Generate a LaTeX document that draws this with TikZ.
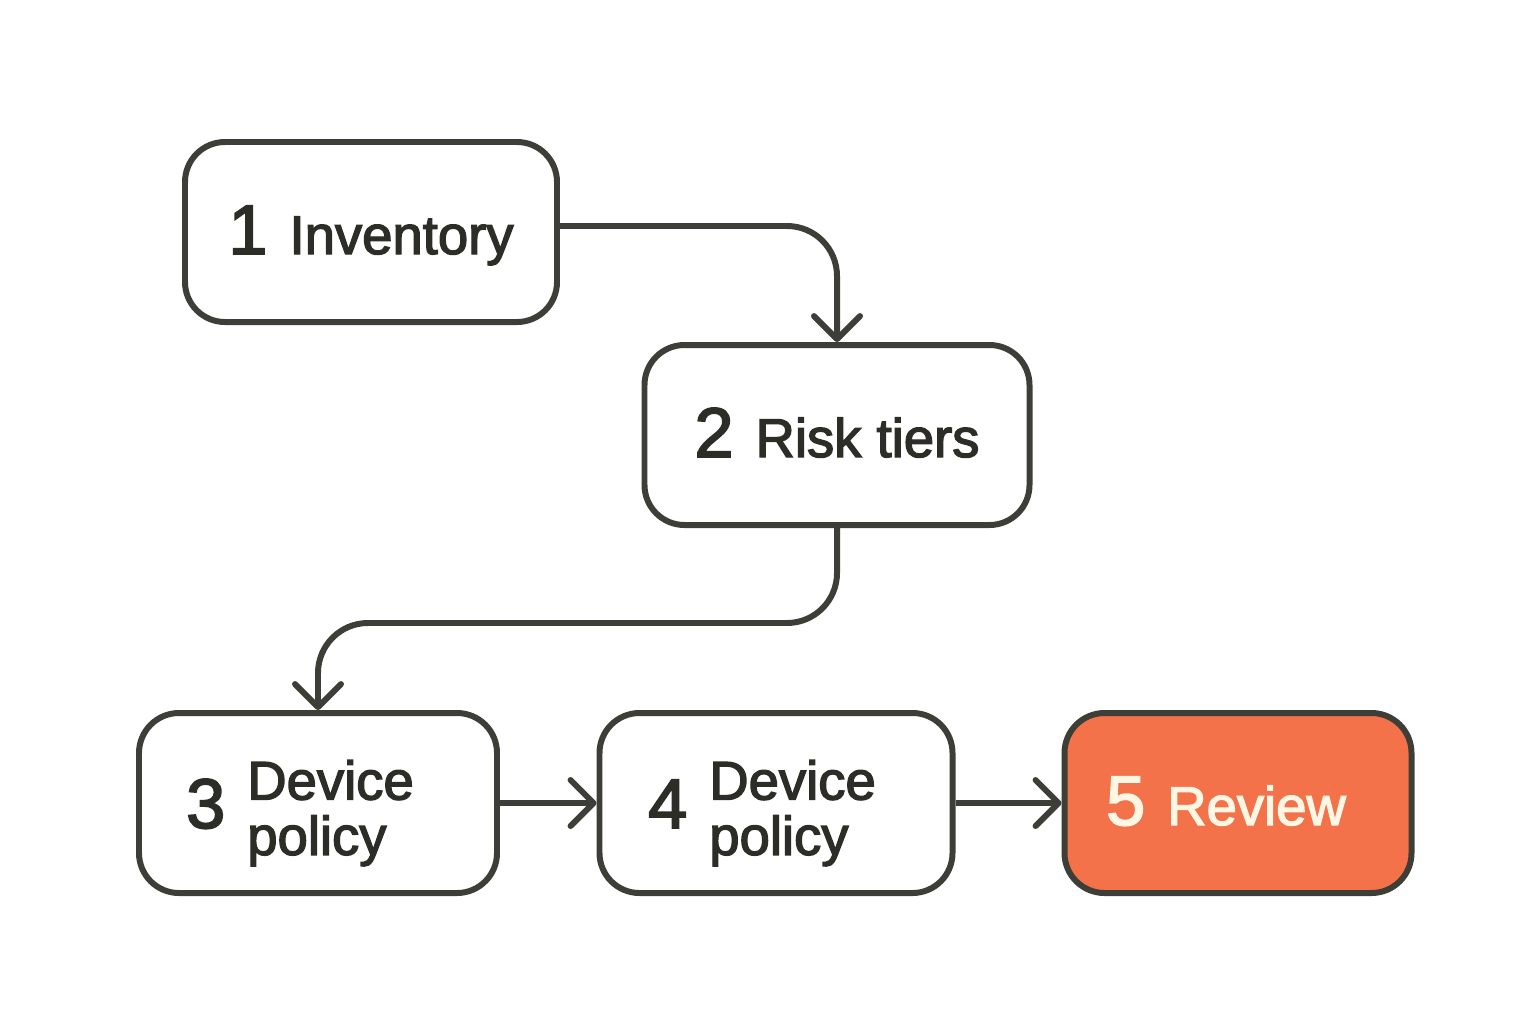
\documentclass[tikz,border=0pt]{standalone}
\usepackage{fontspec}
\newfontfamily\boxfont{Liberation Sans}[FakeBold=2.5]
\usetikzlibrary{arrows.meta}
\definecolor{boxline}{RGB}{62,62,56}
\definecolor{boxtext}{RGB}{45,45,40}
\definecolor{reviewbg}{RGB}{243,114,74}
\definecolor{reviewtext}{RGB}{255,246,228}
\newcommand{\stepnum}[1]{{\fontsize{20pt}{20pt}\selectfont #1}\hspace{2.2mm}}
\newcommand{\twoline}[2]{\begin{tabular}{@{}l@{}}#1\\#2\end{tabular}}

\begin{document}
\begin{tikzpicture}[
  line width=1.7pt, >={Straight Barb[length=2.3mm,width=4.6mm,round]},
  stepbox/.style={draw=boxline, fill=white, text=boxtext, rounded corners=4mm, align=center, minimum height=1.8cm, inner sep=0pt, text height=0.44cm, text depth=0cm, font=\boxfont\fontsize{15.5pt}{15pt}\selectfont},
  twobox/.style={stepbox, text height=0.5cm},
  lastbox/.style={stepbox, fill=reviewbg, text=reviewtext},
  link/.style={draw=boxline, ->, rounded corners=5mm}]
  \useasboundingbox (0,0) rectangle (15.36,-10.24);
  \node[stepbox, minimum width=3.72cm] (inv) at (3.71,-2.32) {\stepnum{1}Inventory};
  \node[stepbox, minimum width=3.85cm] (risk) at (8.37,-4.35) {\stepnum{2}Risk tiers};
  \node[twobox, minimum width=3.58cm] (dev3) at (3.18,-8.03) {\stepnum{3}\twoline{Device}{policy}\hspace{3.6mm}};
  \node[twobox, minimum width=3.53cm] (dev4) at (7.76,-8.03) {\stepnum{4}\twoline{Device}{policy}\hspace{2.8mm}};
  \node[lastbox, minimum width=3.47cm] (review) at (12.38,-8.03) {\stepnum{5}Review\hspace{2.4mm}};
  \draw[link] ([yshift=0.6mm]inv.east) -| (risk.north);
  \draw[link] (risk.south) -- ++(0,-0.95) -| (dev3.north);
  \draw[link] (dev3) -- (dev4);
  \draw[link] (dev4) -- (review);
\end{tikzpicture}
\end{document}
